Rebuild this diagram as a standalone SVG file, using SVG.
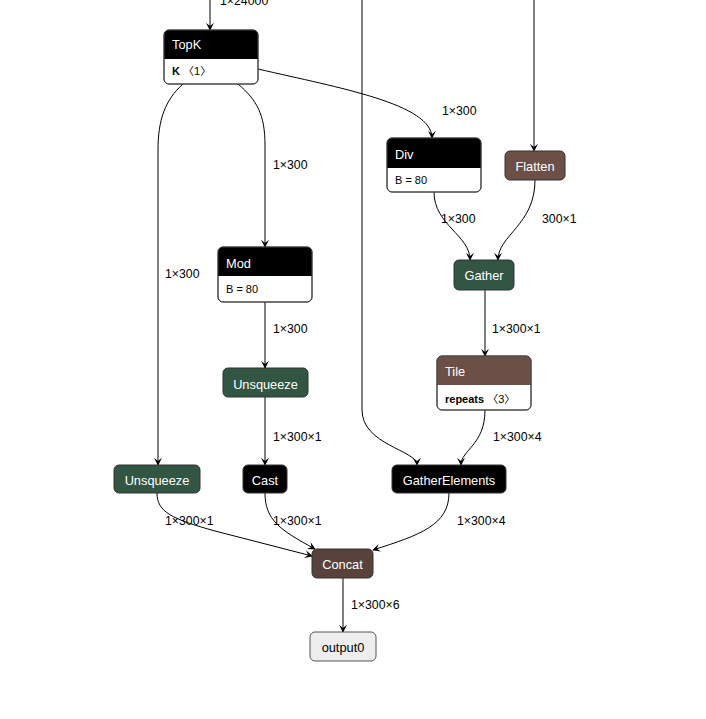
<svg xmlns="http://www.w3.org/2000/svg" width="706" height="719" viewBox="0 0 706 719">
<style>
.e{fill:none;stroke:#000;stroke-width:1;marker-end:url(#ah)}
.lbl{font-family:"Liberation Sans",Arial,sans-serif;font-size:12.3px;fill:#000}
.t{font-family:"Liberation Sans",Arial,sans-serif;font-size:12.8px;fill:#fff}
.tc{text-anchor:middle}
.a{font-family:"Liberation Sans",Arial,"Noto Sans CJK SC",sans-serif;font-size:11px;fill:#000}
.b{font-weight:bold}
.br{font-family:"Noto Sans CJK SC",sans-serif}
.bd{fill:#fff;stroke:#444;stroke-width:1}
.o{fill:none;stroke:#444;stroke-width:1}
.blk{fill:#000}
.grn{fill:#335544;stroke:#333}
.shp{fill:#6c4f47;stroke:#333}
.tns{fill:#59423b;stroke:#333}
.k{fill:#000;stroke:#333}
</style>
<defs>
<marker id="ah" viewBox="0 0 10 10" refX="9" refY="5" markerWidth="8" markerHeight="8" markerUnits="userSpaceOnUse" orient="auto">
<path d="M0,0 L10,5 L0,10 L4,5 Z" fill="#000"/>
</marker>
</defs>
<rect width="706" height="719" fill="#fff"/>
<g id="edges">
<path class="e" d="M210,0 L210,30"/>
<path class="e" d="M362,0 L362,410 C362,445 417,450 417,465"/>
<path class="e" d="M534,0 L534,151"/>
<path class="e" d="M258,69 C340,88 432,104 432,138"/>
<path class="e" d="M183,84 C165,100 158,120 158,150 L158,465"/>
<path class="e" d="M238,84 C257,100 265,115 265,145 L265,247"/>
<path class="e" d="M434,192 C434,225 470,235 470,260"/>
<path class="e" d="M535,180 C535,225 498,235 498,260"/>
<path class="e" d="M485,290 L485,356"/>
<path class="e" d="M265,302 L265,368"/>
<path class="e" d="M485,410 C485,445 461,450 461,465"/>
<path class="e" d="M265,397 L265,465"/>
<path class="e" d="M157,493 C157,512 172,519 215,531 L312,556"/>
<path class="e" d="M265,493 C265,520 280,530 315,549"/>
<path class="e" d="M449,493 C449,525 420,535 373,550"/>
<path class="e" d="M343,578 L343,632"/>
<text class="lbl" x="220" y="5">1×24000</text>
<text class="lbl" x="442" y="115">1×300</text>
<text class="lbl" x="273" y="169">1×300</text>
<text class="lbl" x="441" y="223">1×300</text>
<text class="lbl" x="542" y="223">300×1</text>
<text class="lbl" x="165" y="278">1×300</text>
<text class="lbl" x="273" y="333">1×300</text>
<text class="lbl" x="492" y="333">1×300×1</text>
<text class="lbl" x="273" y="441">1×300×1</text>
<text class="lbl" x="493" y="441">1×300×4</text>
<text class="lbl" x="165" y="525">1×300×1</text>
<text class="lbl" x="273" y="525">1×300×1</text>
<text class="lbl" x="457" y="525">1×300×4</text>
<text class="lbl" x="351" y="609">1×300×6</text>
</g>
<g id="TopK">
<rect class="bd" x="164" y="30" width="94" height="54" rx="5"/>
<path class="blk" d="M164,59 V35 Q164,30 169,30 H253 Q258,30 258,35 V59 Z"/>
<rect class="o" x="164" y="30" width="94" height="54" rx="5"/>
<text class="t" x="172" y="49">TopK</text>
<text class="a" x="172" y="75"><tspan class="b">K</tspan> <tspan class="br">〈</tspan>1<tspan class="br">〉</tspan></text>
</g>
<g id="Div">
<rect class="bd" x="387" y="138" width="94" height="54" rx="5"/>
<path class="blk" d="M387,168 V143 Q387,138 392,138 H476 Q481,138 481,143 V168 Z"/>
<rect class="o" x="387" y="138" width="94" height="54" rx="5"/>
<text class="t" x="395" y="159">Div</text>
<text class="a" x="395" y="184">B = 80</text>
</g>
<g id="Flatten">
<rect class="shp" x="505" y="151" width="60" height="29" rx="5"/>
<text class="t tc" x="535" y="171">Flatten</text>
</g>
<g id="Gather">
<rect class="grn" x="454" y="260" width="60" height="30" rx="5"/>
<text class="t tc" x="484" y="280">Gather</text>
</g>
<g id="Mod">
<rect class="bd" x="218" y="247" width="94" height="55" rx="5"/>
<path class="blk" d="M218,276 V252 Q218,247 223,247 H307 Q312,247 312,252 V276 Z"/>
<rect class="o" x="218" y="247" width="94" height="55" rx="5"/>
<text class="t" x="226" y="268">Mod</text>
<text class="a" x="226" y="293">B = 80</text>
</g>
<g id="Unsqueeze_1">
<rect class="grn" x="223" y="368" width="85" height="29" rx="5"/>
<text class="t tc" x="265.5" y="389">Unsqueeze</text>
</g>
<g id="Tile">
<rect class="bd" x="437" y="356" width="94" height="54" rx="5"/>
<path class="shp" style="stroke:none" d="M437,385 V361 Q437,356 442,356 H526 Q531,356 531,361 V385 Z"/>
<rect class="o" x="437" y="356" width="94" height="54" rx="5"/>
<text class="t" x="445" y="376">Tile</text>
<text class="a" x="445" y="403"><tspan class="b">repeats</tspan> <tspan class="br">〈</tspan>3<tspan class="br">〉</tspan></text>
</g>
<g id="Unsqueeze_0">
<rect class="grn" x="114" y="465" width="86" height="28" rx="5"/>
<text class="t tc" x="157" y="485">Unsqueeze</text>
</g>
<g id="Cast">
<rect class="k" x="243" y="465" width="44" height="28" rx="5"/>
<text class="t tc" x="265" y="485">Cast</text>
</g>
<g id="GatherElements">
<rect class="k" x="392" y="465" width="114" height="28" rx="5"/>
<text class="t tc" x="449" y="485">GatherElements</text>
</g>
<g id="Concat">
<rect class="tns" x="312" y="549" width="61" height="29" rx="5"/>
<text class="t tc" x="342.5" y="569">Concat</text>
</g>
<g id="output0">
<rect x="310" y="632" width="66" height="29" rx="5" fill="#eee" stroke="#555"/>
<text class="t tc" style="fill:#000" x="343" y="652">output0</text>
</g>
</svg>
